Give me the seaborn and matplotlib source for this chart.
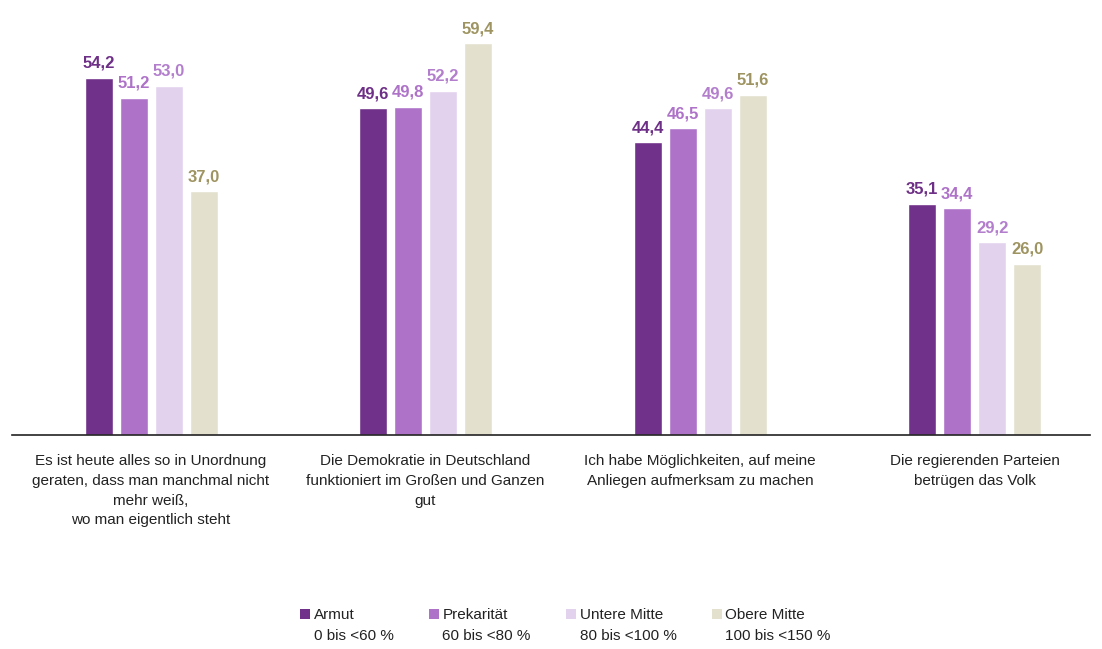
import matplotlib
matplotlib.use("Agg")
import matplotlib.pyplot as plt
import seaborn as sns
import pandas as pd
from matplotlib.patches import Patch, Rectangle
from matplotlib.legend_handler import HandlerPatch

categories = [
    "Es ist heute alles so in Unordnung\ngeraten, dass man manchmal nicht\nmehr weiß,\nwo man eigentlich steht",
    "Die Demokratie in Deutschland\nfunktioniert im Großen und Ganzen\ngut",
    "Ich habe Möglichkeiten, auf meine\nAnliegen aufmerksam zu machen",
    "Die regierenden Parteien\nbetrügen das Volk",
]
groups = ["Armut", "Prekarität", "Untere Mitte", "Obere Mitte"]
group_ranges = ["0 bis <60 %", "60 bis <80 %", "80 bis <100 %", "100 bis <150 %"]
armut = [54.2, 49.6, 44.4, 35.1]
prekaritaet = [51.2, 49.8, 46.5, 34.4]
untere_mitte = [53.0, 52.2, 49.6, 29.2]
obere_mitte = [37.0, 59.4, 51.6, 26.0]

bar_colors = ["#70318A", "#AE73C9", "#E3D2EE", "#E3E0CD"]
label_colors = ["#6E2F87", "#AE73C9", "#B37FCD", "#9E9461"]

series = [armut, prekaritaet, untere_mitte, obere_mitte]
rows = []
for g, vals in zip(groups, series):
    for c, v in zip(categories, vals):
        rows.append({"Kategorie": c, "Gruppe": g, "Wert": v})
df = pd.DataFrame(rows)

sns.set_style("white")
plt.rcParams["font.family"] = ["Liberation Sans", "DejaVu Sans"]

fig = plt.figure(figsize=(11.02, 6.49), dpi=100)
ax = fig.add_axes([0.011, 0.330, 0.978, 0.670])

sns.barplot(data=df, x="Kategorie", y="Wert", hue="Gruppe", order=categories,
            hue_order=groups, palette=bar_colors, width=0.51, gap=0.2,
            ax=ax, legend=False, saturation=1)

for cont, col in zip(ax.containers, label_colors):
    ax.bar_label(cont, labels=[f"{v:.1f}".replace(".", ",") for v in cont.datavalues],
                 padding=5, color=col, fontsize=12, fontweight="bold")

ax.set_ylim(0, 66)
ax.set_xlim(-0.506, 3.42)
ax.set_xlabel("")
ax.set_ylabel("")
ax.set_yticks([])
ax.tick_params(axis="x", length=0, pad=14, labelsize=11, labelcolor="#222222")
for s in ["top", "right", "left"]:
    ax.spines[s].set_visible(False)
ax.spines["bottom"].set_color("#222222")
ax.spines["bottom"].set_linewidth(1.2)
for t in ax.get_xticklabels():
    t.set_multialignment("center")
    t.set_linespacing(1.52)


def top_square(legend, orig_handle, xdescent, ydescent, width, height, fontsize):
    return Rectangle((-xdescent, -ydescent + 0.75 * fontsize), width, height)


handles = [Patch(facecolor=c, edgecolor="none") for c in bar_colors]
labels = [f"{g}\n{r}" for g, r in zip(groups, group_ranges)]
leg = fig.legend(handles, labels, loc="center", bbox_to_anchor=(0.513, 0.036), ncol=4,
                 frameon=False, fontsize=11, handlelength=0.65, handleheight=0.65,
                 handletextpad=0.25, columnspacing=2.3, labelcolor="#222222",
                 handler_map={Patch: HandlerPatch(patch_func=top_square)})
for t in leg.get_texts():
    t.set_linespacing(1.6)

fig.savefig("out.png", dpi=100)
